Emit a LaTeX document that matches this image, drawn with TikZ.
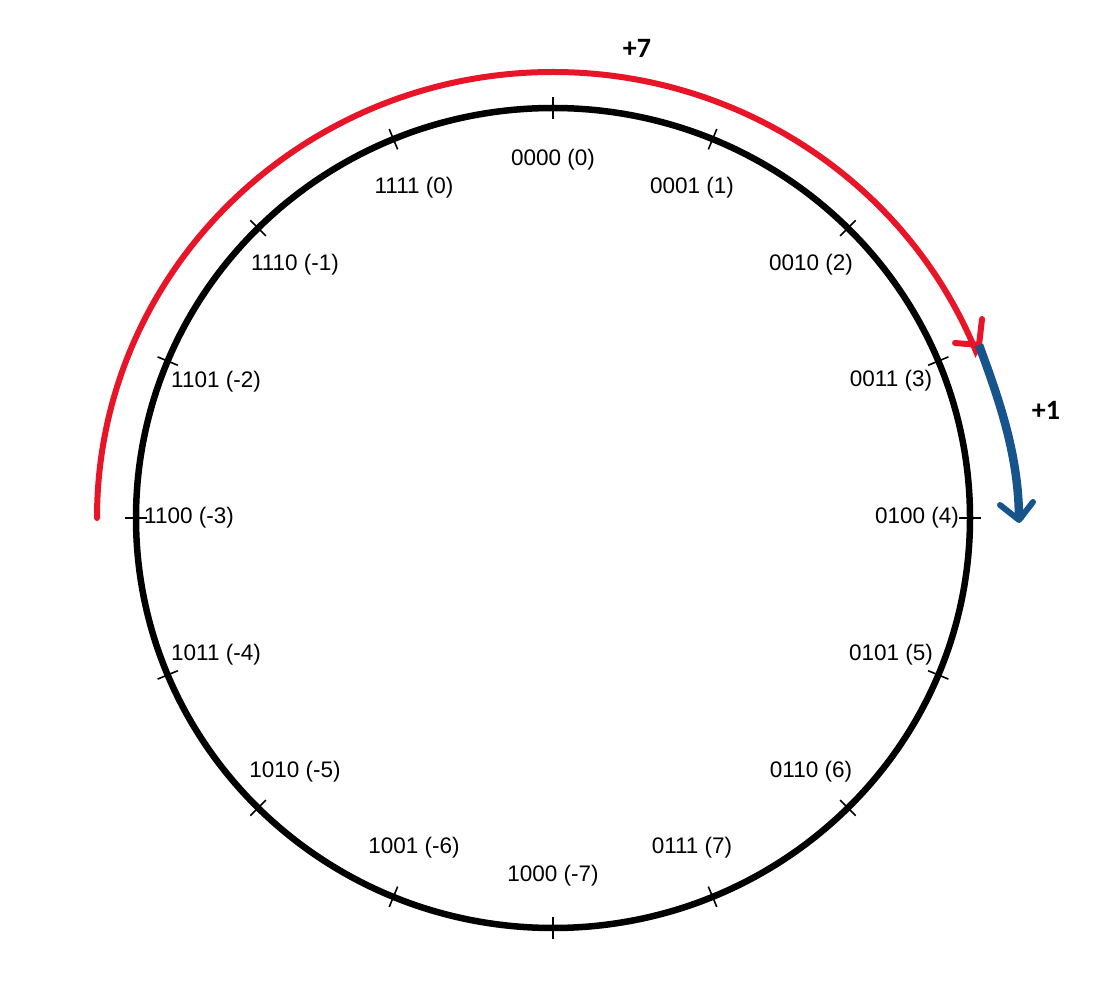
\documentclass[tikz,border=0pt]{standalone}
\usepackage{fontspec}
\setmainfont{Liberation Sans}
\newfontfamily\calfont{Carlito}
\usetikzlibrary{calc}
\definecolor{redarc}{RGB}{232,20,40}
\definecolor{bluearc}{RGB}{24,84,140}
\begin{document}
\begin{tikzpicture}[x=1pt,y=1pt,
  ring/.style={line width=6.5pt,black},
  tickmark/.style={line width=1.6pt,black},
  lbl/.style={font=\fontsize{22.5}{25}\selectfont,text=black,inner sep=0pt,anchor=center},
  plus/.style={font=\calfont\bfseries\fontsize{28}{30}\selectfont,inner sep=0pt,anchor=center},
  redpath/.style={line width=6pt,redarc,line cap=round},
  bluepath/.style={line width=8.5pt,bluearc},
]
\useasboundingbox (0,0) rectangle (1116,1002);
\coordinate (C) at (553,484);
% ring
\draw[ring] (C) ellipse [x radius=417, y radius=410];
% ticks
\foreach \i in {0,...,15}{
  \pgfmathsetmacro{\a}{90-22.5*\i}
  \draw[tickmark] ($(C)+(\a:406 and 399)$) -- ($(C)+(\a:428 and 421)$);
}
% labels
\node[lbl] (l0)  at (553,842) {0000 (0)};
\node[lbl] (l1)  at (692,814) {0001 (1)};
\node[lbl] (l2)  at (811,737) {0010 (2)};
\node[lbl] (l3)  at (891,621) {0011 (3)};
\node[lbl] (l4)  at (917,484) {0100 (4)};
\node[lbl] (l5)  at (891,347) {0101 (5)};
\node[lbl] (l6)  at (811,230) {0110 (6)};
\node[lbl] (l7)  at (692,154) {0111 (7)};
\node[lbl] (l8)  at (553,126) {1000 (-7)};
\node[lbl] (l9)  at (414,154) {1001 (-6)};
\node[lbl] (l10) at (295,230) {1010 (-5)};
\node[lbl] (l11) at (216,347) {1011 (-4)};
\node[lbl] (l12) at (189,484) {1100 (-3)};
\node[lbl] (l13) at (216,620) {1101 (-2)};
\node[lbl] (l14) at (295,737) {1110 (-1)};
\node[lbl] (l15) at (414,814) {1111 (0)};
% red arc +7
\coordinate (rs) at (97,484);
\coordinate (rt) at (979,657);
\draw[redpath] (rs) arc[start angle=180, end angle=22, x radius=456, y radius=446] -- (rt);
\draw[redpath,line join=round] (982,683) -- (rt) -- (955,659);
% blue arrow +1
\coordinate (bt) at (1019,482);
\draw[bluepath] (rt) .. controls (1000,600) and (1019,545) .. (bt);
\draw[line width=6pt,bluearc,line cap=round,line join=round] (1000,497) -- (bt) -- (1033,500);
% plus labels
\node[plus] (p7) at (637,954) {+7};
\node[plus] (p1) at (1046,592) {+1};
\end{tikzpicture}
\end{document}
